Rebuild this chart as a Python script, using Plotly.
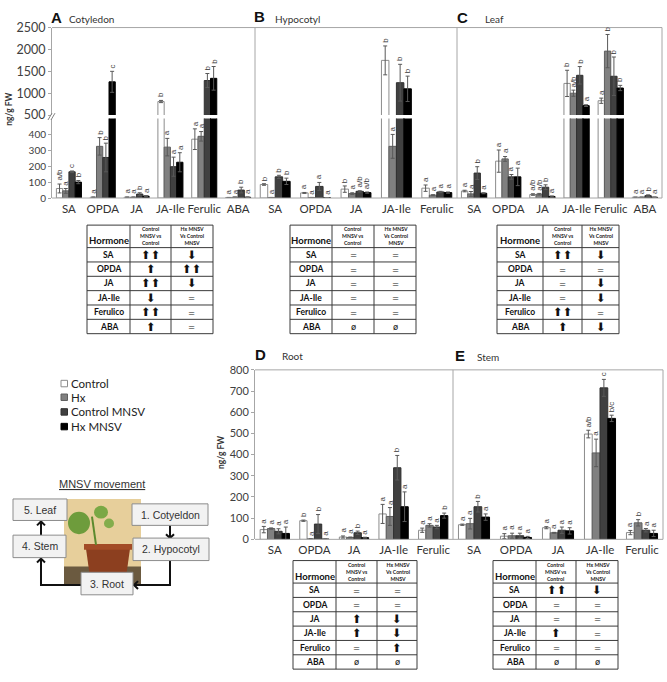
import plotly.graph_objects as go

W, H = 667, 682

SERIES = ["Control", "Hx", "Control MNSV", "Hx MNSV"]
FILL = ["#ffffff", "#808080", "#404040", "#000000"]
EDGE = ["#8c8c8c", "#5f5f5f", "#303030", "#000000"]
BARGAP = 0.26

# A - Cotyledon (series order: Control, Hx, Control MNSV, Hx MNSV)
COT_CATS = ["SA", "OPDA", "JA", "JA-Ile", "Ferulic", "ABA"]
COT_VALUES = [
    [60, 5, 5, 810, 370, 3],
    [45, 325, 5, 320, 388, 5],
    [165, 255, 25, 197, 1290, 50],
    [100, 1260, 12, 225, 1340, 5],
]
COT_ERRORS = [
    [28, 2, 2, 25, 65, 1],
    [15, 55, 2, 55, 30, 2],
    [5, 90, 8, 60, 160, 18],
    [10, 240, 3, 60, 270, 2],
]
COT_LETTERS = [
    ["a/b", "a", "a", "b", "a", "a"],
    ["a", "b", "a", "a", "a", "a"],
    ["c", "b", "b", "a", "b", "b"],
    ["b", "c", "a", "a", "b", "a"],
]

# B - Hypocotyl
HYP_CATS = ["SA", "OPDA", "JA", "JA-Ile", "Ferulic"]
HYP_VALUES = [
    [85, 32, 56, 1750, 62],
    [3, 3, 28, 325, 18],
    [133, 73, 42, 1240, 38],
    [105, 2, 34, 1100, 34],
]
HYP_ERRORS = [
    [5, 3, 20, 330, 20],
    [1, 1, 5, 75, 3],
    [10, 25, 4, 420, 4],
    [20, 1, 4, 290, 4],
]
HYP_LETTERS = [
    ["b", "a", "b", "b", "a"],
    ["a", "a", "a", "a", "a"],
    ["b", "a", "a/b", "b", "a"],
    ["b", "a", "a/b", "b", "a"],
]

# C - Leaf
LEAF_CATS = ["SA", "OPDA", "JA", "JA-Ile", "Ferulic", "ABA"]
LEAF_VALUES = [
    [44, 232, 22, 1224, 828, 5],
    [26, 246, 24, 1000, 1962, 5],
    [157, 133, 68, 1409, 1387, 15],
    [30, 133, 10, 716, 1119, 5],
]
LEAF_ERRORS = [
    [5, 70, 5, 300, 60, 1],
    [15, 15, 5, 70, 380, 1],
    [40, 15, 15, 200, 440, 5],
    [3, 55, 3, 20, 60, 1],
]
LEAF_LETTERS = [
    ["a", "a", "a/b", "b", "a", "a"],
    ["a", "a", "a/b", "a/b", "b", "a"],
    ["b", "a", "b", "b", "b", "b"],
    ["a", "a", "a", "a", "b", "a"],
]

# D - Root
ROOT_CATS = ["SA", "OPDA", "JA", "JA-Ile", "Ferulic"]
ROOT_VALUES = [
    [46, 88, 11, 120, 43],
    [51, 2, 9, 108, 66],
    [38, 72, 31, 338, 58],
    [28, 1, 8, 154, 112],
]
ROOT_ERRORS = [
    [15, 3, 5, 45, 10],
    [3, 1, 2, 42, 8],
    [12, 45, 8, 58, 8],
    [30, 1, 2, 70, 12],
]
ROOT_LETTERS = [
    ["a", "b", "a", "a", "a"],
    ["a", "a", "a", "a", "a"],
    ["a", "b", "b", "b", "a"],
    ["a", "a", "a", "a", "b"],
]

# E - Stem
STEM_CATS = ["SA", "OPDA", "JA", "JA-Ile", "Ferulic"]
STEM_VALUES = [
    [69, 15, 55, 497, 32],
    [74, 17, 31, 408, 78],
    [154, 17, 43, 715, 43],
    [105, 9, 40, 571, 28],
]
STEM_ERRORS = [
    [3, 12, 5, 18, 10],
    [25, 12, 2, 65, 15],
    [25, 12, 15, 40, 8],
    [15, 5, 15, 15, 15],
]
STEM_LETTERS = [
    ["a", "a", "a", "a/b", "a"],
    ["a", "a", "a", "a", "b"],
    ["b", "a", "a", "c", "a"],
    ["a", "a", "a", "b/c", "a"],
]

# summary tables
TABLE_HORMONES = ["SA", "OPDA", "JA", "JA-Ile", "Ferulico", "ABA"]
TABLE_HEADER = ["Hormone", "Control<br>MNSV vs<br>Control", "Hx MNSV<br>Vs Control<br>MNSV"]
UP, DOWN, UP2 = "⬆", "⬇", "⬆⬆"
TAB_A = [[UP2, UP, UP2, DOWN, UP2, UP], [DOWN, UP2, DOWN, "=", "=", "="]]
TAB_B = [["=", "=", "=", "=", "=", "ø"], ["=", "=", "=", "=", "=", "ø"]]
TAB_C = [[UP2, "=", "=", "=", UP2, UP], [DOWN, "=", DOWN, DOWN, "=", DOWN]]
TAB_D = [["=", "=", UP, UP, "=", "ø"], ["=", "=", DOWN, DOWN, UP, "ø"]]
TAB_E = [[UP2, "=", "=", UP, "=", "ø"], [DOWN, "=", "=", "=", "=", "ø"]]


def px(x):
    return x / W


def py(y):
    return 1 - y / H


fig = go.Figure()
shapes = []
annotations = []


def add_bars(xid, yaxes, cats, values, errors, letters, panel_px):
    # width of one bar in pixels, used to put the letters over their own bar
    bar_px = panel_px / len(cats) * (1 - BARGAP) / len(SERIES)
    for s, name in enumerate(SERIES):
        tops = [v + e for v, e in zip(values[s], errors[s])]
        for yid, lo, hi in yaxes:
            fig.add_trace(go.Bar(
                x=cats, y=values[s], name=name, xaxis=xid, yaxis=yid,
                offsetgroup=name, showlegend=False, hoverinfo="skip",
                marker=dict(color=FILL[s], line=dict(color=EDGE[s], width=1)),
                error_y=dict(type="data", array=errors[s], color="#595959",
                             thickness=1, width=2),
            ))
            for c, t, l in zip(cats, tops, letters[s]):
                if lo <= t < hi:
                    annotations.append(dict(
                        x=c, y=t, xref=xid, yref=yid, text=l, showarrow=False,
                        textangle=-90, xanchor="center", yanchor="bottom",
                        xshift=(s - 1.5) * bar_px, yshift=1,
                        font=dict(family="Liberation Sans", size=8, color="#3a3a3a")))


# top row: broken axis (lower 0-500, upper 500-2500)
LOW_DOM = [py(194.3), py(113)]
UP_DOM = [py(109.5), py(20)]
top_panels = [
    (52, 255, COT_CATS, COT_VALUES, COT_ERRORS, COT_LETTERS),
    (255, 457, HYP_CATS, HYP_VALUES, HYP_ERRORS, HYP_LETTERS),
    (457, 662, LEAF_CATS, LEAF_VALUES, LEAF_ERRORS, LEAF_LETTERS),
]
bottom_panels = [
    (255, 453, ROOT_CATS, ROOT_VALUES, ROOT_ERRORS, ROOT_LETTERS),
    (453, 663, STEM_CATS, STEM_VALUES, STEM_ERRORS, STEM_LETTERS),
]

axes = {}
xtick = dict(family="Lato", size=11.5, color="#333333")
for i, (x0, x1, cats, vals, errs, lets) in enumerate(top_panels):
    xn, lo_n, up_n = i + 1, i + 1, i + 4
    axes[f"xaxis{xn}"] = dict(domain=[px(x0), px(x1)], anchor=f"y{lo_n}",
                              type="category", ticks="", showline=False,
                              showgrid=False, zeroline=False, tickfont=xtick,
                              ticklabelstandoff=2)
    first = i == 0
    axes[f"yaxis{lo_n}"] = dict(domain=LOW_DOM, anchor=f"x{xn}", range=[0, 500],
                                showgrid=False, zeroline=False, showline=first,
                                linecolor="#a6a6a6", ticks="outside" if first else "",
                                ticklen=3, tickcolor="#a6a6a6",
                                tickvals=[0, 100, 200, 300, 400],
                                showticklabels=first,
                                tickfont=dict(family="Lato", size=10, color="#404040"))
    axes[f"yaxis{up_n}"] = dict(domain=UP_DOM, anchor=f"x{xn}", range=[500, 2500],
                                showgrid=False, zeroline=False, showline=first,
                                linecolor="#a6a6a6", ticks="outside" if first else "",
                                ticklen=3, tickcolor="#a6a6a6",
                                tickvals=[500, 1000, 1500, 2000, 2500],
                                showticklabels=first,
                                tickfont=dict(family="Lato", size=12.5, color="#404040"))
    add_bars(f"x{xn}", [(f"y{lo_n}", 0, 500), (f"y{up_n}", 500, 1e9)],
             cats, vals, errs, lets, x1 - x0)

BOT_DOM = [py(543.3), py(370)]
for j, (x0, x1, cats, vals, errs, lets) in enumerate(bottom_panels):
    xn, yn = j + 4, j + 7
    first = j == 0
    axes[f"xaxis{xn}"] = dict(domain=[px(x0), px(x1)], anchor=f"y{yn}",
                              type="category", ticks="", showline=False,
                              showgrid=False, zeroline=False, tickfont=xtick,
                              ticklabelstandoff=2)
    axes[f"yaxis{yn}"] = dict(domain=BOT_DOM, anchor=f"x{xn}", range=[0, 800],
                              showgrid=False, zeroline=False, showline=first,
                              linecolor="#a6a6a6", ticks="outside" if first else "",
                              ticklen=3, tickcolor="#a6a6a6", dtick=100,
                              showticklabels=first,
                              tickfont=dict(family="Lato", size=11, color="#404040"))
    add_bars(f"x{xn}", [(f"y{yn}", 0, 1e9)], cats, vals, errs, lets, x1 - x0)


def note(x, y, text, size, family="Lato", color="#222222", xanchor="center",
         yanchor="middle", **kw):
    annotations.append(dict(x=px(x), y=py(y), xref="paper", yref="paper", text=text,
                            showarrow=False, xanchor=xanchor, yanchor=yanchor,
                            font=dict(family=family, size=size, color=color), **kw))


def seg(x0, y0, x1, y1, color, width=1):
    shapes.append(dict(type="line", xref="paper", yref="paper", x0=px(x0), y0=py(y0),
                       x1=px(x1), y1=py(y1), line=dict(color=color, width=width)))


# tables drawn as grid + text
def draw_table(cols, xe, top, header_h=23, height=111):
    row_h = (height - header_h) / len(TABLE_HORMONES)
    ye = [top, top + header_h] + [top + header_h + row_h * (r + 1)
                                  for r in range(len(TABLE_HORMONES))]
    for x in xe:
        seg(x, ye[0], x, ye[-1], "#3a3a3a")
    for y in ye:
        seg(xe[0], y, xe[-1], y, "#3a3a3a")
    note((xe[0] + xe[1]) / 2, top + header_h - 7, "<b>%s</b>" % TABLE_HEADER[0], 9.5,
         color="#111111")
    for c in (1, 2):
        note((xe[c] + xe[c + 1]) / 2, top + header_h / 2, "<b>%s</b>" % TABLE_HEADER[c],
             5.2, color="#222222")
    for r, h in enumerate(TABLE_HORMONES):
        yc = (ye[r + 1] + ye[r + 2]) / 2
        note((xe[0] + xe[1]) / 2, yc, "<b>%s</b>" % h, 8.5, color="#111111")
        for c in (0, 1):
            t = cols[c][r]
            big = t in (UP, DOWN, UP2)
            note((xe[c + 1] + xe[c + 2]) / 2, yc + (0 if big else 0.5), t,
                 11.5 if big else 8.5, family="DejaVu Sans", color="#111111")


draw_table(TAB_A, [87, 130, 171, 213], 222)
draw_table(TAB_B, [290, 332, 374, 416], 222)
draw_table(TAB_C, [497, 543, 582, 619], 222)
draw_table(TAB_D, [293, 336, 377, 417], 565)
draw_table(TAB_E, [493, 536, 576, 618], 565)

# frames
for (a, b, c, d) in [(52, 20, 662, 20), (52, 194.3, 662, 194.3), (662, 20, 662, 194.3),
                     (255, 20, 255, 194.3), (457, 20, 457, 194.3),
                     (255, 370, 663, 370), (255, 543.3, 663, 543.3),
                     (663, 370, 663, 543.3), (453, 370, 453, 543.3)]:
    seg(a, b, c, d, "#a6a6a6")
# axis break marks
for dx in (0, 3):
    seg(48 + dx, 114.5, 52 + dx, 107.5, "#808080")

# panel letters and titles
for x, y, t in [(56, 10, "A"), (259, 9, "B"), (462, 10, "C"), (260, 354, "D"), (460, 355, "E")]:
    note(x, y, "<b>%s</b>" % t, 15, family="Liberation Sans", color="#111111")
for x, y, t in [(67, 11, "Cotyledon"), (273, 11, "Hypocotyl"), (483, 11, "Leaf"),
                (280, 356, "Root"), (475, 357, "Stem")]:
    note(x, y, t, 10, color="#333333", xanchor="left")
note(9, 104, "<b>ng/g FW</b>", 8.5, textangle=-90, color="#333333")
note(221, 455, "<b>ng/g FW</b>", 8.5, textangle=-90, color="#333333")

# legend
for k, (name, yy) in enumerate(zip(SERIES, [384, 398, 413, 428])):
    shapes.append(dict(type="rect", xref="paper", yref="paper",
                       x0=px(61), x1=px(67.5), y0=py(yy + 3.3), y1=py(yy - 3.3),
                       fillcolor=FILL[k], line=dict(color=EDGE[k], width=1)))
    note(69, yy, name, 11.5, xanchor="left", color="#222222")

# MNSV movement diagram
note(102, 487, "<u>MNSV movement</u>", 11, family="Liberation Sans", color="#333333")


def prect(kind, x0, y0, x1, y1, color):
    shapes.append(dict(type=kind, xref="paper", yref="paper", x0=px(x0), x1=px(x1),
                       y0=py(y1), y1=py(y0), fillcolor=color, line=dict(width=0)))


def pline(points, width=2, color="#111111", fill=None, close=False):
    d = "M " + " L ".join("%f %f" % (px(a), py(b)) for a, b in points)
    if close:
        d += " Z"
    s = dict(type="path", xref="paper", yref="paper", path=d,
             line=dict(color=color, width=width))
    if fill:
        s["fillcolor"] = fill
    shapes.append(s)


prect("rect", 64, 502, 141, 589, "#e7cf9b")
prect("rect", 64, 571, 141, 589, "#6b5a40")
pline([(86, 553), (130, 553), (126, 582), (90, 582)], width=0, color="rgba(0,0,0,0)",
      fill="#8c3f1f", close=True)
prect("rect", 84, 548, 132, 554, "#a34c26")
pline([(96, 549), (92, 520)], width=2, color="#5c8a2e")
prect("circle", 68, 515, 90, 538, "#6e9c3c")
prect("circle", 94, 509, 108, 522, "#7aa845")
prect("circle", 104, 522, 114, 532, "#84ad4c")

pline([(170, 529), (170, 542)])
pline([(166, 538), (170, 542), (174, 538)])
pline([(170, 565), (170, 590), (134, 590)])
pline([(138, 586), (134, 590), (138, 594)])
pline([(81, 590), (41, 590), (41, 563)])
pline([(37, 567), (41, 563), (45, 567)])
pline([(41, 539), (41, 525)])
pline([(37, 529), (41, 525), (45, 529)])

for (x0, y0, x1, y1, t) in [(13, 502, 67, 524, "5. Leaf"), (13, 539, 66, 562, "4. Stem"),
                            (132, 507, 208, 529, "1. Cotyeldon"),
                            (133, 542, 209, 565, "2. Hypocotyl"),
                            (81, 577, 133, 600, "3. Root")]:
    shapes.append(dict(type="rect", xref="paper", yref="paper", x0=px(x0), x1=px(x1),
                       y0=py(y1), y1=py(y0), fillcolor="#f2f2f2",
                       line=dict(color="#8c8c8c", width=1)))
    note((x0 + x1) / 2, (y0 + y1) / 2, t, 10.5, family="Liberation Sans", color="#333333")

fig.update_layout(
    width=W, height=H, autosize=False,
    margin=dict(l=0, r=0, t=0, b=0),
    paper_bgcolor="white", plot_bgcolor="rgba(0,0,0,0)",
    barmode="group", bargap=BARGAP, bargroupgap=0,
    showlegend=False,
    shapes=shapes, annotations=annotations,
    **axes,
)

# the page body has a default 8px margin; remove it so the figure fills the window
fig.write_html("out.html", config={"displayModeBar": False},
               post_script="document.body.style.margin='0px';")
